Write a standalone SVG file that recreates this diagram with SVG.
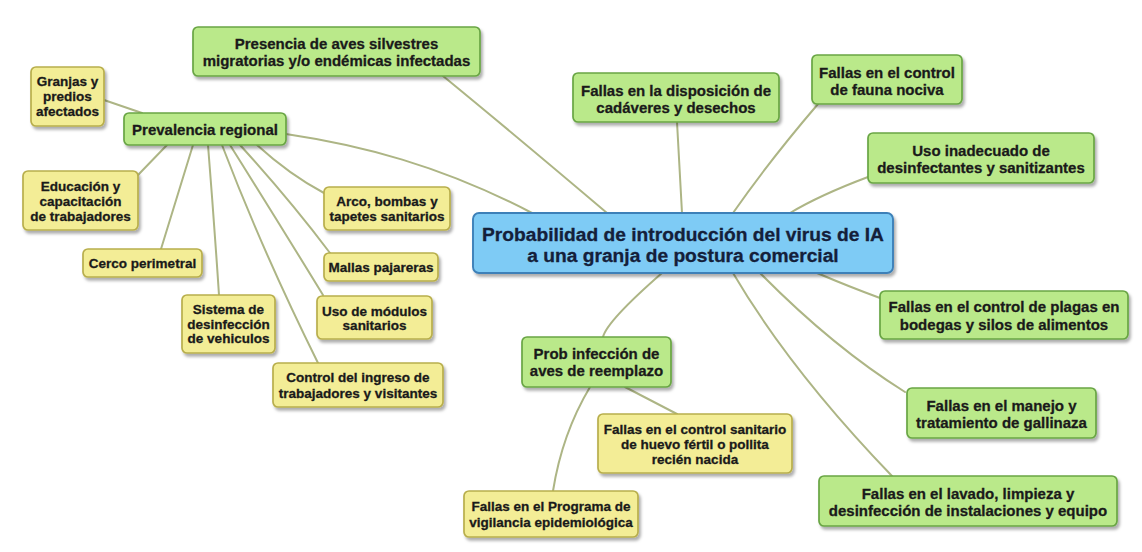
<svg xmlns="http://www.w3.org/2000/svg" width="1142" height="552" viewBox="0 0 1142 552">
<defs>
<filter id="sh" x="-10%" y="-20%" width="125%" height="150%">
<feDropShadow dx="2" dy="3" stdDeviation="1.8" flood-color="#000" flood-opacity="0.32"/>
</filter>
<style>
.g rect{fill:#bae98a;stroke:#69a544;stroke-width:1.7}
.y rect{fill:#f3ed96;stroke:#b8ae4c;stroke-width:1.7}
.b rect{fill:#7ecbf5;stroke:#3d80b8;stroke-width:1.9}
rect{filter:url(#sh)}
text{font-family:"Liberation Sans",Arial,sans-serif;font-weight:bold;fill:#1a1a1a;stroke:#1a1a1a;stroke-width:0.3;text-anchor:middle;dominant-baseline:central}
.g text{font-size:15px}
.y text{font-size:13.5px}
.b text{font-size:19.2px;fill:#14203a;stroke:#14203a}
#connectors path{fill:none;stroke:#adb585;stroke-width:2;stroke-linecap:round}
</style>
</defs>
<rect width="1142" height="552" fill="#ffffff" style="filter:none"/>
<g id="connectors">
<path d="M443,76 Q515,135 607,213"/>
<path d="M286,134 C360,145 440,165 532,213"/>
<path d="M677,122 L682,213"/>
<path d="M818,104 Q770,160 733,213"/>
<path d="M868,177 Q820,195 790,213"/>
<path d="M817,273 Q850,287 880,298"/>
<path d="M760,273 Q833,347 905,392"/>
<path d="M733,273 Q790,370 892,476"/>
<path d="M662,273 Q607,321 603,337"/>
<path d="M590,387 Q562,434 553,491"/>
<path d="M625,387 L677,414"/>
<path d="M104,100 L142,113"/>
<path d="M167,145 L138,175"/>
<path d="M193,145 L161,249"/>
<path d="M208,145 Q214,220 219,295"/>
<path d="M222,145 Q262,250 318,363"/>
<path d="M230,145 Q274,215 323,295"/>
<path d="M240,145 Q290,200 330,253"/>
<path d="M257,145 Q290,175 324,193"/>
</g>
<g id="central" class="b">
<rect x="473" y="213" width="420" height="60" rx="6"/>
<text x="683" y="234">Probabilidad de introducción del virus de IA</text>
<text x="683" y="255">a una granja de postura comercial</text>
</g>
<g id="presencia" class="g">
<rect x="193" y="27" width="287" height="49" rx="5"/>
<text x="336.5" y="43">Presencia de aves silvestres</text>
<text x="336.5" y="60.5">migratorias y/o endémicas infectadas</text>
</g>
<g id="prevalencia" class="g">
<rect x="124" y="113" width="162" height="32" rx="5"/>
<text x="205" y="129">Prevalencia regional</text>
</g>
<g id="granjas" class="y">
<rect x="31" y="67" width="73" height="59" rx="5"/>
<text x="67.5" y="81.5">Granjas y</text>
<text x="67.5" y="96.5">predios</text>
<text x="67.5" y="111.5">afectados</text>
</g>
<g id="educacion" class="y">
<rect x="23" y="171" width="115" height="59" rx="5"/>
<text x="80.5" y="186">Educación y</text>
<text x="80.5" y="201">capacitación</text>
<text x="80.5" y="216">de trabajadores</text>
</g>
<g id="arco" class="y">
<rect x="324" y="187" width="126" height="43" rx="5"/>
<text x="387" y="201.5">Arco, bombas y</text>
<text x="387" y="216.5">tapetes sanitarios</text>
</g>
<g id="cerco" class="y">
<rect x="83" y="249" width="119" height="28" rx="5"/>
<text x="142.5" y="263">Cerco perimetral</text>
</g>
<g id="mallas" class="y">
<rect x="324" y="253" width="114" height="28" rx="5"/>
<text x="381" y="267">Mallas pajareras</text>
</g>
<g id="sistema" class="y">
<rect x="182" y="295" width="93" height="58" rx="5"/>
<text x="228.5" y="309.5">Sistema de</text>
<text x="228.5" y="324">desinfección</text>
<text x="228.5" y="338.5">de vehiculos</text>
</g>
<g id="modulos" class="y">
<rect x="317" y="296" width="115" height="43" rx="5"/>
<text x="374.5" y="311">Uso de módulos</text>
<text x="374.5" y="325.5">sanitarios</text>
</g>
<g id="control-ingreso" class="y">
<rect x="273" y="363" width="170" height="44" rx="5"/>
<text x="358" y="377.5">Control del ingreso de</text>
<text x="358" y="393">trabajadores y visitantes</text>
</g>
<g id="disposicion" class="g">
<rect x="573" y="73" width="206" height="49" rx="5"/>
<text x="676" y="90.5">Fallas en la disposición de</text>
<text x="676" y="107">cadáveres y desechos</text>
</g>
<g id="fauna" class="g">
<rect x="812" y="55" width="150" height="49" rx="5"/>
<text x="887" y="72.5">Fallas en el control</text>
<text x="887" y="89">de fauna nociva</text>
</g>
<g id="uso-inadecuado" class="g">
<rect x="868" y="133" width="226" height="50" rx="5"/>
<text x="981" y="150.5">Uso inadecuado de</text>
<text x="981" y="167">desinfectantes y sanitizantes</text>
</g>
<g id="plagas" class="g">
<rect x="880" y="291" width="248" height="48" rx="5"/>
<text x="1004" y="306.5">Fallas en el control de plagas en</text>
<text x="1004" y="324">bodegas y silos de alimentos</text>
</g>
<g id="manejo" class="g">
<rect x="907" y="388" width="189" height="50" rx="5"/>
<text x="1001.5" y="405">Fallas en el manejo y</text>
<text x="1001.5" y="422.5">tratamiento de gallinaza</text>
</g>
<g id="lavado" class="g">
<rect x="819" y="476" width="298" height="50" rx="5"/>
<text x="968" y="493">Fallas en el lavado, limpieza y</text>
<text x="968" y="510.5">desinfección de instalaciones y equipo</text>
</g>
<g id="prob-infeccion" class="g">
<rect x="522" y="337" width="149" height="50" rx="5"/>
<text x="596.5" y="353.5">Prob infección de</text>
<text x="596.5" y="370.5">aves de reemplazo</text>
</g>
<g id="huevo" class="y">
<rect x="598" y="414" width="194" height="59" rx="5"/>
<text x="695" y="429.5">Fallas en el control sanitario</text>
<text x="695" y="444.5">de huevo fértil o pollita</text>
<text x="695" y="459.5">recién nacida</text>
</g>
<g id="programa" class="y">
<rect x="464" y="491" width="174" height="46" rx="5"/>
<text x="551" y="506.5">Fallas en el Programa de</text>
<text x="551" y="522">vigilancia epidemiológica</text>
</g>
</svg>
